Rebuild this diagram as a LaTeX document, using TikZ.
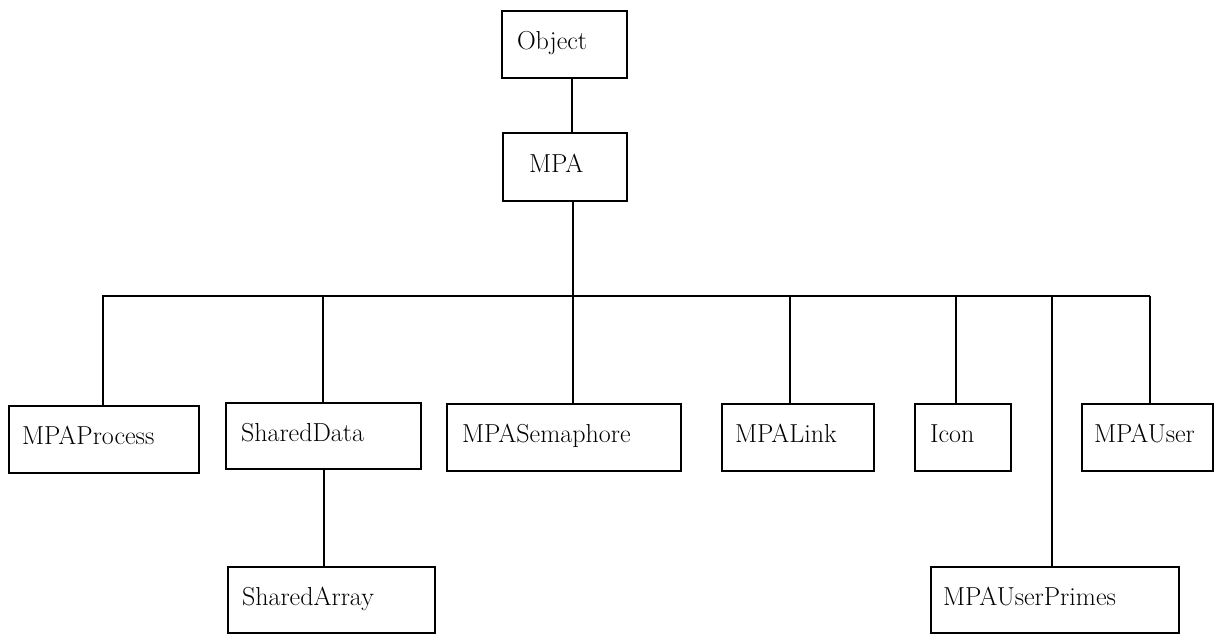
\documentclass[tikz,border=0pt]{standalone}
\usetikzlibrary{calc}
\begin{document}
\begin{tikzpicture}[x=1pt,y=-1pt,
  box/.style={draw=black, line width=1.6pt, rectangle, align=left,
    font=\fontsize{26}{31}\selectfont, text height=17pt, text depth=7pt, inner ysep=0pt},
  link/.style={draw=black, line width=1.1pt},
  thick link/.style={draw=black, line width=2pt}]
\useasboundingbox[fill=white] (0,0) rectangle (1214,635);
% boxes: name, x1,y1,x2,y2, pad, text
\newcommand{\mybox}[7]{%
  \pgfmathsetmacro{\bw}{#4-#2}%
  \pgfmathsetmacro{\bh}{#5-#3}%
  \pgfmathsetmacro{\tw}{#4-#2-2*#6}%
  \node[box, minimum width=\bw pt, minimum height=\bh pt, text width=\tw pt, inner xsep=#6pt]
    (#1) at ({(#2+#4)/2},{(#3+#5)/2}) {#7};}
\mybox{obj}{502}{11}{627}{78}{15}{Object}
\mybox{mpa}{503}{133}{627}{201}{26}{MPA}
\mybox{proc}{9}{406}{199}{473}{13}{MPAProcess}
\mybox{sdata}{226}{403}{421}{469}{15}{SharedData}
\mybox{sema}{447}{404}{681}{471}{15}{MPASemaphore}
\mybox{mlink}{722}{404}{874}{471}{13}{MPALink}
\mybox{icon}{915}{404}{1011}{471}{15}{Icon}
\mybox{user}{1082}{404}{1213}{471}{12}{MPAUser}
\mybox{sarr}{228}{567}{435}{633}{14}{SharedArray}
\mybox{primes}{931}{567}{1179}{633}{12}{MPAUserPrimes}
\coordinate (bus) at (0,296);
% connectors
\draw[thick link] (obj.south -| 572,0) -- (mpa.north -| 572,0);
\draw[link] (mpa.south -| 573,0) -- (bus -| 573,0);
\draw[link] (proc.north -| 103,0) -- (bus -| 103,0) -- (bus -| 1150,0);
\draw[link] (sdata.north -| 323,0) -- (bus -| 323,0);
\draw[link] (sema.north -| 573,0) -- (bus -| 573,0);
\draw[link] (mlink.north -| 790,0) -- (bus -| 790,0);
\draw[link] (icon.north -| 956,0) -- (bus -| 956,0);
\draw[link] (primes.north -| 1052,0) -- (bus -| 1052,0);
\draw[link] (user.north -| 1150,0) -- (bus -| 1150,0);
\draw[link] (sdata.south -| 324,0) -- (sarr.north -| 324,0);
\end{tikzpicture}
\end{document}
